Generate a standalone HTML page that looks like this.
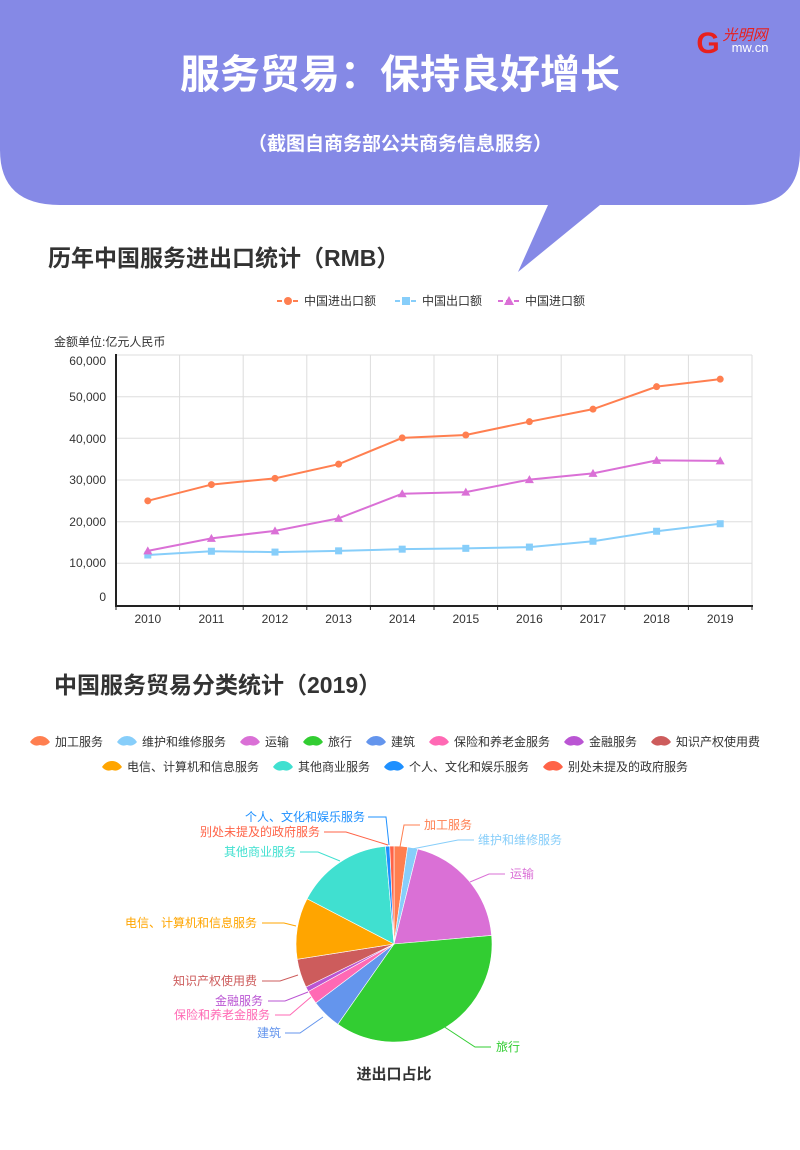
<!DOCTYPE html>
<html><head><meta charset="utf-8">
<style>
body{margin:0;background:#fff;width:800px;height:1145px;overflow:hidden;font-family:"Liberation Sans","Noto Sans CJK SC",sans-serif;}
svg text{font-family:"Liberation Sans","Noto Sans CJK SC",sans-serif;}
</style></head><body>
<svg width="800" height="1145" viewBox="0 0 800 1145" xmlns="http://www.w3.org/2000/svg">
<path d="M0,-60 H800 V150 Q800,205 745,205 H600 L518,272 L548,205 H60 Q0,205 0,150 Z" fill="#8589E6"/>
<text x="400" y="88" text-anchor="middle" font-size="40" font-weight="bold" fill="#fff">服务贸易：保持良好增长</text>
<text x="400" y="150" text-anchor="middle" font-size="19" font-weight="bold" fill="#fff">（截图自商务部公共商务信息服务）</text>
<text x="708" y="53" font-size="30" font-weight="bold" fill="#e8201e" text-anchor="middle" font-family="Liberation Serif">G</text>
<text x="745" y="40" font-size="15" fill="#e8201e" font-style="italic" text-anchor="middle">光明网</text>
<text x="750" y="52" font-size="13" fill="#fff" text-anchor="middle">mw.cn</text>

<text x="48" y="266" font-size="23" font-weight="bold" fill="#333">历年中国服务进出口统计（RMB）</text>

<g font-size="12" fill="#333">
<line x1="277" y1="301" x2="299" y2="301" stroke="#FF7F50" stroke-width="2" stroke-dasharray="5,3"/><circle cx="288" cy="301" r="4" fill="#FF7F50"/><text x="304" y="305">中国进出口额</text>
<line x1="395" y1="301" x2="417" y2="301" stroke="#87CEFA" stroke-width="2" stroke-dasharray="5,3"/><rect x="402" y="297" width="8" height="8" fill="#87CEFA"/><text x="422" y="305">中国出口额</text>
<line x1="498" y1="301" x2="520" y2="301" stroke="#DA70D6" stroke-width="2" stroke-dasharray="5,3"/><path d="M509,296 L514,305 L504,305Z" fill="#DA70D6"/><text x="525" y="305">中国进口额</text>
<text x="54" y="346" font-size="12">金额单位:亿元人民币</text>
</g>
<g stroke="#ddd" stroke-width="1">
<line x1="116" y1="355" x2="752" y2="355"/><line x1="116" y1="396.7" x2="752" y2="396.7"/><line x1="116" y1="438.3" x2="752" y2="438.3"/><line x1="116" y1="480" x2="752" y2="480"/><line x1="116" y1="521.7" x2="752" y2="521.7"/><line x1="116" y1="563.3" x2="752" y2="563.3"/>
<line x1="179.6" y1="355" x2="179.6" y2="605"/><line x1="243.2" y1="355" x2="243.2" y2="605"/><line x1="306.8" y1="355" x2="306.8" y2="605"/><line x1="370.4" y1="355" x2="370.4" y2="605"/><line x1="434" y1="355" x2="434" y2="605"/><line x1="497.6" y1="355" x2="497.6" y2="605"/><line x1="561.2" y1="355" x2="561.2" y2="605"/><line x1="624.8" y1="355" x2="624.8" y2="605"/><line x1="688.4" y1="355" x2="688.4" y2="605"/><line x1="752" y1="355" x2="752" y2="605"/>
</g>
<line x1="116" y1="354" x2="116" y2="606" stroke="#222" stroke-width="2"/>
<line x1="115" y1="606" x2="753" y2="606" stroke="#222" stroke-width="2"/>
<g stroke="#222" stroke-width="1"><line x1="116" y1="606" x2="116" y2="610"/><line x1="179.6" y1="606" x2="179.6" y2="610"/><line x1="243.2" y1="606" x2="243.2" y2="610"/><line x1="306.8" y1="606" x2="306.8" y2="610"/><line x1="370.4" y1="606" x2="370.4" y2="610"/><line x1="434" y1="606" x2="434" y2="610"/><line x1="497.6" y1="606" x2="497.6" y2="610"/><line x1="561.2" y1="606" x2="561.2" y2="610"/><line x1="624.8" y1="606" x2="624.8" y2="610"/><line x1="688.4" y1="606" x2="688.4" y2="610"/><line x1="752" y1="606" x2="752" y2="610"/></g>
<g font-size="12" fill="#333" text-anchor="end">
<text x="106" y="365">60,000</text><text x="106" y="401">50,000</text><text x="106" y="443">40,000</text><text x="106" y="484">30,000</text><text x="106" y="526">20,000</text><text x="106" y="567">10,000</text><text x="106" y="601">0</text>
</g>
<g font-size="12" fill="#333" text-anchor="middle">
<text x="147.8" y="623">2010</text><text x="211.4" y="623">2011</text><text x="275" y="623">2012</text><text x="338.6" y="623">2013</text><text x="402.2" y="623">2014</text><text x="465.8" y="623">2015</text><text x="529.4" y="623">2016</text><text x="593" y="623">2017</text><text x="656.6" y="623">2018</text><text x="720.2" y="623">2019</text>
</g>
<g id="series"></g>

<text x="54" y="693" font-size="23" font-weight="bold" fill="#333">中国服务贸易分类统计（2019）</text>
<g id="plegend" font-size="12" fill="#333"></g>
<g id="pie"></g>
<g font-size="12">
<polyline points="368,817 386,817 389,845" fill="none" stroke="#1E90FF"/><text x="365" y="821" text-anchor="end" fill="#1E90FF">个人、文化和娱乐服务</text>
<polyline points="324,832 346,832 388,845" fill="none" stroke="#FF6347"/><text x="320" y="836" text-anchor="end" fill="#FF6347">别处未提及的政府服务</text>
<polyline points="300,852 318,852 340,861" fill="none" stroke="#40E0D0"/><text x="296" y="856" text-anchor="end" fill="#40E0D0">其他商业服务</text>
<polyline points="420,825 404,825 400,847" fill="none" stroke="#FF7F50"/><text x="424" y="829" fill="#FF7F50">加工服务</text>
<polyline points="474,840 458,840 412,849" fill="none" stroke="#87CEFA"/><text x="478" y="844" fill="#87CEFA">维护和维修服务</text>
<polyline points="505,874 489,874 470,882" fill="none" stroke="#DA70D6"/><text x="510" y="878" fill="#DA70D6">运输</text>
<polyline points="262,923 284,923 296,926" fill="none" stroke="#FFA500"/><text x="257" y="927" text-anchor="end" fill="#FFA500">电信、计算机和信息服务</text>
<polyline points="262,981 280,981 298,975" fill="none" stroke="#CD5C5C"/><text x="257" y="985" text-anchor="end" fill="#CD5C5C">知识产权使用费</text>
<polyline points="268,1001 285,1001 308,992" fill="none" stroke="#BA55D3"/><text x="263" y="1005" text-anchor="end" fill="#BA55D3">金融服务</text>
<polyline points="275,1015 290,1015 311,997" fill="none" stroke="#FF69B4"/><text x="270" y="1019" text-anchor="end" fill="#FF69B4">保险和养老金服务</text>
<polyline points="285,1033 300,1033 323,1017" fill="none" stroke="#6495ED"/><text x="281" y="1037" text-anchor="end" fill="#6495ED">建筑</text>
<polyline points="491,1047 475,1047 443,1026" fill="none" stroke="#32CD32"/><text x="496" y="1051" fill="#32CD32">旅行</text>
</g>
<text x="394" y="1079" text-anchor="middle" font-size="15" font-weight="bold" fill="#333">进出口占比</text>
</svg>
<script>
var NS="http://www.w3.org/2000/svg";
function el(t,a,p){var e=document.createElementNS(NS,t);for(var k in a)e.setAttribute(k,a[k]);p.appendChild(e);return e;}
var s=document.getElementById("series");
function X(i){return 147.8+63.6*i;} function Y(v){return 605-v*250/60000;}
var data=[["#FF7F50",[25000,28900,30400,33800,40100,40800,44000,47000,52400,54200],"c"],
["#87CEFA",[12000,12900,12700,13000,13400,13600,13900,15300,17700,19500],"s"],
["#DA70D6",[13000,16000,17800,20800,26700,27100,30100,31600,34700,34600],"t"]];
data.forEach(function(d){var pts=d[1].map(function(v,i){return X(i)+","+Y(v);}).join(" ");
el("polyline",{points:pts,fill:"none",stroke:d[0],"stroke-width":2},s);
d[1].forEach(function(v,i){var x=X(i),y=Y(v);
if(d[2]=="c")el("circle",{cx:x,cy:y,r:3.5,fill:d[0]},s);
else if(d[2]=="s")el("rect",{x:x-3.5,y:y-3.5,width:7,height:7,fill:d[0]},s);
else el("path",{d:"M"+x+","+(y-4.5)+" L"+(x+4.5)+","+(y+3.5)+" L"+(x-4.5)+","+(y+3.5)+"Z",fill:d[0]},s);});});
var sl=[["加工服务","#FF7F50",0,8],["维护和维修服务","#87CEFA",8,14],["运输","#DA70D6",14,85],["旅行","#32CD32",85,215],["建筑","#6495ED",215,233],["保险和养老金服务","#FF69B4",233,241],["金融服务","#BA55D3",241,244],["知识产权使用费","#CD5C5C",244,261],["电信、计算机和信息服务","#FFA500",261,297.5],["其他商业服务","#40E0D0",297.5,355],["个人、文化和娱乐服务","#1E90FF",355,357.5],["别处未提及的政府服务","#FF6347",357.5,360]];
var pg=document.getElementById("pie"),cx=394,cy=944,r=98;
function P(a){a=a*Math.PI/180;return (cx+r*Math.sin(a)).toFixed(2)+","+(cy-r*Math.cos(a)).toFixed(2);}
sl.forEach(function(q){var large=(q[3]-q[2])>180?1:0;
el("path",{d:"M"+cx+","+cy+" L"+P(q[2])+" A"+r+","+r+" 0 "+large+" 1 "+P(q[3])+"Z",fill:q[1],stroke:"#fff","stroke-width":0.6},pg);});
var lg=document.getElementById("plegend");
var widths=sl.map(function(q){return 30+q[0].length*12;});
[[0,8,742],[8,12,767]].forEach(function(rw){var tot=0;for(var i=rw[0];i<rw[1];i++)tot+=widths[i]+9;var x=400-tot/2+2;
for(var i=rw[0];i<rw[1];i++){var y=rw[2];
el("path",{d:"M"+(x)+","+(y)+" Q"+(x+4)+","+(y-6)+" "+(x+10)+","+(y-6)+" Q"+(x+16)+","+(y-6)+" "+(x+20)+","+y+" Q"+(x+16)+","+(y+5)+" "+(x+10)+","+(y+3)+" Q"+(x+4)+","+(y+5)+" "+x+","+y+"Z",fill:sl[i][1]},lg);
var t=el("text",{x:x+25,y:y+4},lg);t.textContent=sl[i][0];x+=widths[i]+9;}});
</script>
</body></html>
